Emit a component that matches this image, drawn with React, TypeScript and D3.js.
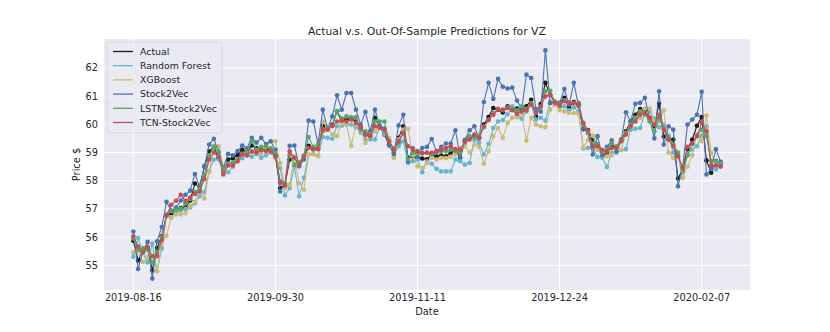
import React from 'react';
import * as d3 from 'd3';

// trading-day index of each date tick, and its label
const tickIdx = [0, 30, 60, 90, 120];
const tickLabels = ['2019-08-16', '2019-09-30', '2019-11-11', '2019-12-24', '2020-02-07'];
const yTicks = [55, 56, 57, 58, 59, 60, 61, 62];

const actual = [
  55.87, 55.17, 55.5, 55.62, 54.82, 55.62, 56.03, 56.77, 56.85, 56.98,
  57.03, 57.05, 57.3, 57.9, 57.78, 58.5, 59.04, 59.2, 58.8, 58.33,
  58.75, 58.8, 58.9, 59.1, 59.0, 59.25, 59.15, 59.1, 59.12, 59.1,
  58.87, 57.74, 57.85, 58.75, 58.82, 58.54, 58.85, 59.24, 59.12, 59.15,
  59.95, 59.85, 59.98, 60.46, 60.1, 60.17, 60.23, 60.1, 59.87, 59.64,
  59.58, 60.23, 59.93, 59.64, 59.28, 58.99, 59.52, 59.93, 58.81, 58.87,
  58.81, 58.79, 58.76, 58.93, 58.87, 58.89, 58.87, 58.99, 59.1, 58.81,
  59.4, 59.52, 59.58, 59.52, 59.99, 60.26, 60.58, 60.52, 60.42, 60.64,
  60.52, 60.56, 60.52, 60.64, 60.87, 60.28, 60.72, 61.47, 61.05, 60.79,
  60.76, 60.94, 60.6, 60.79, 60.7, 59.83, 59.8, 59.46, 59.28, 58.87,
  58.99, 59.22, 59.2, 59.46, 59.75, 60.1, 60.34, 60.54, 60.46, 60.23,
  59.93, 60.73, 59.57, 59.46, 59.46, 58.08, 58.4, 59.12, 59.46, 59.95,
  60.26, 58.72, 58.28, 58.7, 58.6,
];

const randomForest = [
  55.3, 55.97, 55.45, 55.1, 55.76, 54.8, 55.6, 56.77, 56.7, 56.85,
  56.95, 57.0, 57.05, 57.2, 57.45, 57.6, 58.33, 58.75, 58.75, 58.35,
  58.3, 58.5, 58.7, 58.8, 58.9, 58.85, 58.95, 58.81, 58.9, 59.0,
  58.81, 58.45, 57.48, 57.74, 58.5, 57.45, 58.1, 58.93, 58.95, 58.89,
  59.55, 59.52, 59.49, 59.93, 59.95, 59.99, 59.99, 59.9, 59.7, 59.46,
  59.46, 59.46, 59.9, 59.64, 59.5, 58.87, 59.22, 59.4, 58.63, 58.69,
  58.75, 58.3, 58.69, 58.6, 58.42, 58.33, 58.33, 58.33, 58.75, 58.69,
  58.57, 58.63, 59.46, 59.34, 58.93, 59.3, 59.87, 60.1, 60.15, 60.36,
  60.64, 60.32, 60.2, 60.46, 60.7, 60.17, 60.23, 60.13, 60.8, 60.76,
  60.6, 60.64, 60.5, 60.6, 60.45, 59.14, 59.16, 59.16, 58.84, 58.81,
  58.49, 58.99, 58.99, 59.08, 59.12, 59.81, 59.84, 59.87, 60.4, 60.45,
  60.2, 59.9, 59.99, 59.6, 59.0, 58.87, 58.1, 58.95, 59.1, 59.22,
  59.6, 59.93, 58.51, 58.4, 58.5,
];

const xgBoost = [
  55.46, 55.5, 55.12, 55.3, 55.35, 54.79, 55.8, 56.05, 56.7, 56.8,
  56.8, 56.85, 57.1, 57.25, 57.86, 57.37, 58.3, 59.24, 59.22, 58.5,
  58.55, 58.6, 58.75, 58.9, 58.95, 59.0, 59.05, 58.95, 59.2, 59.4,
  59.4, 58.63, 57.74, 57.86, 58.87, 57.92, 57.68, 58.93, 58.93, 58.87,
  60.1, 59.87, 59.64, 59.58, 60.05, 59.99, 59.24, 59.99, 59.8, 59.34,
  59.58, 59.75, 59.99, 59.8, 59.5, 58.81, 59.46, 59.81, 59.84, 58.9,
  58.51, 58.45, 58.63, 58.81, 58.75, 58.81, 58.8, 58.85, 58.93, 59.16,
  59.22, 59.0, 59.28, 59.2, 58.6, 59.04, 59.58, 59.87, 59.52, 60.05,
  60.23, 60.25, 60.4, 59.42, 60.23, 59.99, 59.93, 59.9, 60.52, 60.7,
  60.5, 60.46, 60.4, 60.4, 60.37, 59.16, 59.45, 59.6, 59.1, 58.87,
  58.87, 58.9, 59.22, 59.1, 59.64, 60.05, 60.2, 60.23, 60.56, 60.56,
  60.1, 60.1, 60.5, 59.0, 58.8, 58.95, 58.1, 58.5, 58.9, 59.64,
  59.4, 60.31, 59.0, 58.6, 58.55,
];

const stock2Vec = [
  56.2, 54.87, 55.5, 55.83, 54.53, 55.85, 56.36, 57.25, 56.94, 57.05,
  57.3, 57.5, 57.65, 58.24, 57.8, 58.51, 59.28, 59.49, 59.0, 58.45,
  58.95, 58.9, 59.05, 59.25, 59.15, 59.52, 59.35, 59.52, 59.3, 59.4,
  59.1, 57.62, 57.9, 59.24, 59.25, 58.51, 58.75, 60.13, 60.1, 59.3,
  60.52, 59.85, 60.28, 61.03, 60.52, 61.11, 61.11, 60.52, 59.99, 60.44,
  59.75, 60.52, 59.95, 59.85, 59.25, 58.95, 59.96, 60.34, 58.69, 59.15,
  58.85, 59.16, 59.2, 59.48, 59.05, 59.2, 59.32, 59.32, 59.79, 58.85,
  59.45, 59.79, 59.93, 59.5, 60.79, 61.47, 60.9, 61.61, 61.33, 61.27,
  61.3, 60.84, 60.55, 61.76, 61.64, 60.55, 60.45, 62.62, 60.75, 60.8,
  60.75, 61.25, 60.7, 61.47, 60.65, 59.85, 59.69, 58.93, 59.58, 58.9,
  59.2, 59.43, 59.04, 59.4, 60.43, 60.1, 60.73, 60.76, 60.94, 60.2,
  59.5, 61.17, 59.28, 59.93, 59.81, 57.8, 58.5, 59.99, 60.17, 60.34,
  61.15, 58.22, 58.42, 59.12, 58.67,
];

const lstmStock2Vec = [
  55.95, 55.55, 55.6, 55.55, 55.1, 55.45, 56.0, 56.8, 56.92, 56.98,
  57.0, 57.2, 57.35, 57.6, 57.7, 58.2, 58.9, 59.2, 59.04, 58.4,
  58.6, 58.65, 58.75, 58.95, 59.0, 59.4, 59.1, 59.2, 59.22, 59.15,
  58.95, 57.98, 57.9, 58.9, 58.57, 58.65, 58.9, 59.55, 59.2, 59.28,
  59.75, 59.9, 59.95, 60.46, 60.2, 60.28, 60.26, 60.26, 59.81, 59.75,
  59.64, 60.1, 60.1, 60.1, 59.4, 59.15, 59.35, 59.7, 58.75, 58.99,
  58.95, 58.99, 59.0, 58.95, 58.99, 59.05, 59.05, 59.1, 59.05, 59.0,
  59.35, 59.58, 59.55, 59.58, 59.9, 60.15, 60.4, 60.55, 60.5, 60.6,
  60.55, 60.5, 60.64, 60.55, 60.75, 60.45, 60.6, 61.17, 61.19, 60.8,
  60.72, 60.85, 60.76, 60.75, 60.76, 60.0, 59.7, 59.3, 59.28, 59.05,
  59.1, 59.32, 59.2, 59.45, 59.7, 59.95, 60.23, 60.46, 60.35, 60.1,
  59.75, 60.2, 59.87, 59.55, 59.28, 59.0, 58.35, 58.9, 59.3, 59.6,
  59.81, 59.58, 58.7, 58.69, 58.6,
];

const tcnStock2Vec = [
  56.03, 55.67, 55.46, 55.65, 55.32, 55.32, 55.9, 56.77, 57.15, 57.29,
  57.5, 57.29, 57.4, 57.54, 57.62, 58.06, 58.75, 59.0, 58.85, 58.22,
  58.54, 58.54, 58.69, 58.93, 58.9, 59.04, 59.0, 59.08, 59.05, 59.04,
  58.87, 57.92, 57.83, 59.04, 58.81, 58.57, 58.84, 59.16, 59.12, 59.12,
  59.81, 59.81, 59.93, 60.1, 60.13, 60.1, 60.17, 60.05, 59.9, 59.64,
  59.58, 59.93, 59.87, 59.81, 59.4, 59.1, 59.4, 59.69, 59.22, 59.1,
  59.05, 58.97, 58.99, 58.99, 59.04, 59.1, 59.16, 59.22, 59.12, 59.1,
  59.4, 59.46, 59.64, 59.52, 59.93, 60.17, 60.34, 60.52, 60.52, 60.58,
  60.5, 60.37, 60.46, 60.5, 60.7, 60.4, 60.64, 60.99, 61.05, 60.76,
  60.67, 60.82, 60.76, 60.76, 60.72, 60.05, 59.78, 59.22, 59.22, 59.1,
  59.04, 59.16, 59.16, 59.43, 59.64, 59.93, 60.1, 60.34, 60.4, 60.23,
  59.99, 60.34, 59.81, 59.46, 59.22, 58.87, 58.45, 59.2, 59.32, 59.58,
  60.05, 59.75, 58.54, 58.54, 58.51,
];

const seriesNames = ['Actual', 'Random Forest', 'XGBoost', 'Stock2Vec', 'LSTM-Stock2Vec', 'TCN-Stock2Vec'];
const seriesColors = ['#1a1a1a', '#64B5CD', '#CCB974', '#4C72B0', '#55A868', '#C44E52'];
const seriesValues = [actual, randomForest, xgBoost, stock2Vec, lstmStock2Vec, tcnStock2Vec];

const W = 830;
const H = 332;
const margin = { left: 104, right: 80, top: 39, bottom: 42 };
const FONT = 'DejaVu Sans, sans-serif';
const TEXT = '#262626';

export default function App() {
  const n = actual.length;
  const xPad = (n - 1) * 0.05;
  const x = d3.scaleLinear()
    .domain([-xPad, n - 1 + xPad])
    .range([margin.left, W - margin.right]);

  const all = seriesValues.flat();
  const [lo, hi] = d3.extent(all) as [number, number];
  const yPad = (hi - lo) * 0.05;
  const y = d3.scaleLinear()
    .domain([lo - yPad, hi + yPad])
    .range([H - margin.bottom, margin.top]);

  const line = d3.line<number>()
    .x((_, i) => x(i))
    .y(d => y(d));

  const [x0, x1] = x.range();
  const [y0, y1] = y.range();
  const cx = (x0 + x1) / 2;

  const legendX = 107;
  const legendY = 42;
  const rowH = 14.2;

  return (
    <div style={{ position: 'absolute', left: 0, top: 0 }}>
      <svg width={W} height={H} style={{ display: 'block', fontFamily: FONT }}>
        <rect x={0} y={0} width={W} height={H} fill="#ffffff" />
        <rect x={x0} y={y1} width={x1 - x0} height={y0 - y1} fill="#EAEAF2" />

        {yTicks.map(t => (
          <line key={'gy' + t} x1={x0} x2={x1} y1={y(t)} y2={y(t)} stroke="#ffffff" strokeWidth={1} />
        ))}
        {tickIdx.map(t => (
          <line key={'gx' + t} x1={x(t)} x2={x(t)} y1={y1} y2={y0} stroke="#ffffff" strokeWidth={1} />
        ))}

        {seriesValues.map((vals, s) => (
          <g key={seriesNames[s]}>
            <path d={line(vals) || ''} fill="none" stroke={seriesColors[s]} strokeWidth={1.1} strokeLinejoin="round" />
            {vals.map((v, i) => (
              <circle key={i} cx={x(i)} cy={y(v)} r={2.3} fill={seriesColors[s]} />
            ))}
          </g>
        ))}

        {yTicks.map(t => (
          <text key={'ly' + t} x={x0 - 6} y={y(t)} dy="0.35em" textAnchor="end" fontSize={9.8} fill={TEXT}>
            {t}
          </text>
        ))}
        {tickIdx.map((t, k) => (
          <text key={'lx' + t} x={x(t)} y={y0 + 11} textAnchor="middle" fontSize={9.8} fill={TEXT}>
            {tickLabels[k]}
          </text>
        ))}

        <text x={cx} y={y0 + 25} textAnchor="middle" fontSize={9.8} fill={TEXT}>Date</text>
        <text transform={`translate(${x0 - 24},${(y0 + y1) / 2}) rotate(-90)`} textAnchor="middle" fontSize={9.8} fill={TEXT}>
          Price $
        </text>
        <text x={cx} y={y1 - 4} textAnchor="middle" fontSize={10.8} fill={TEXT}>
          Actual v.s. Out-Of-Sample Predictions for VZ
        </text>

        <rect x={legendX} y={legendY} width={115} height={91} rx={3}
          fill="#EAEAF2" fillOpacity={0.8} stroke="#cccccc" strokeOpacity={0.8} strokeWidth={0.8} />
        {seriesNames.map((name, s) => {
          const ry = legendY + 9.5 + s * rowH;
          return (
            <g key={'lg' + name}>
              <line x1={legendX + 6} x2={legendX + 26} y1={ry} y2={ry} stroke={seriesColors[s]} strokeWidth={1.3} />
              <text x={legendX + 33} y={ry} dy="0.35em" fontSize={9.4} fill={TEXT}>{name}</text>
            </g>
          );
        })}
      </svg>
    </div>
  );
}
